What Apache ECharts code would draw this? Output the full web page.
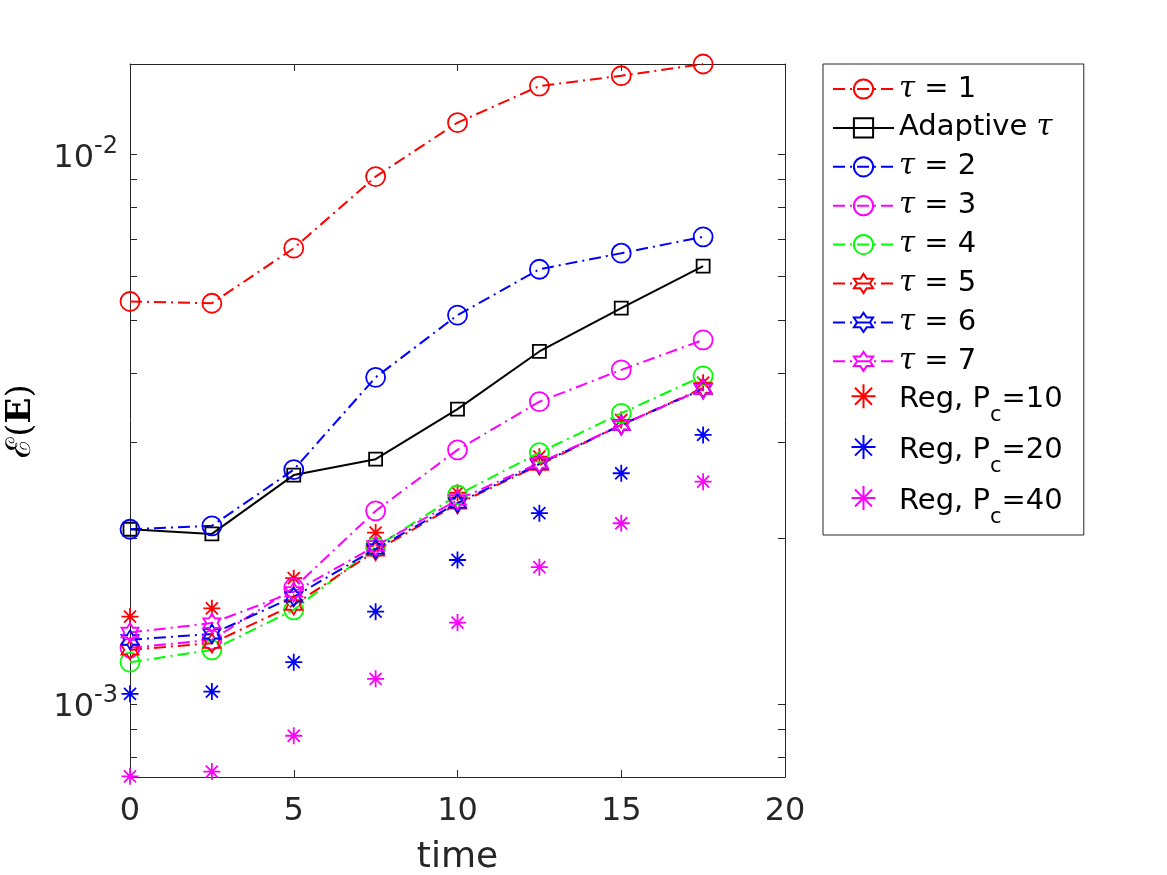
<!DOCTYPE html>
<html>
<head>
<meta charset="utf-8">
<script src="https://cdn.jsdelivr.net/npm/echarts@6/dist/echarts.min.js"></script>
<style>html,body{margin:0;padding:0;background:#fff}#c{width:1167px;height:875px}</style>
</head>
<body>
<div id="c"></div>
<script>
const times = [0, 2.5, 5, 7.5, 10, 12.5, 15, 17.5];
const tau1 = [0.00540, 0.00536, 0.00675, 0.00911, 0.01142, 0.01331, 0.01390, 0.0146];
const adaptive = [0.00208, 0.00204, 0.00261, 0.00279, 0.00344, 0.00438, 0.00525, 0.00626];
const tau2 = [0.00208, 0.00211, 0.00267, 0.00393, 0.00510, 0.00618, 0.00661, 0.00708];
const tau3 = [0.001266, 0.001309, 0.001627, 0.002246, 0.002901, 0.003549, 0.004055, 0.004597];
const tau4 = [0.001192, 0.001255, 0.001484, 0.001930, 0.002401, 0.002868, 0.003381, 0.003954];
const tau5 = [0.001255, 0.001291, 0.001515, 0.001900, 0.002313, 0.002723, 0.003220, 0.003759];
const tau6 = [0.001309, 0.001342, 0.001567, 0.001916, 0.002323, 0.002734, 0.003220, 0.003744];
const tau7 = [0.001350, 0.001404, 0.001600, 0.001940, 0.002352, 0.002746, 0.003220, 0.003744];
const reg10 = [0.001443, 0.001494, 0.001695, 0.002051, 0.002424, 0.002819, 0.003287, 0.003844];
const reg20 = [0.001044, 0.001054, 0.001192, 0.001473, 0.001829, 0.002225, 0.002630, 0.003088];
const reg40 = [0.000739, 0.000754, 0.000876, 0.001112, 0.001407, 0.001775, 0.002133, 0.002539];
const xTicks = [0, 5, 10, 15, 20];
const yLabelValues = [0.001, 0.01];
const yTickValues = [0.0008, 0.0009, 0.001, 0.002, 0.003, 0.004, 0.005, 0.006, 0.007, 0.008, 0.009, 0.01];

const seriesNames = ['τ = 1', 'Adaptive τ', 'τ = 2', 'τ = 3', 'τ = 4', 'τ = 5', 'τ = 6', 'τ = 7',
  'Reg, Pc=10', 'Reg, Pc=20', 'Reg, Pc=40'];
const legendRich = {
  'τ = 1': '{it|τ} = 1', 'Adaptive τ': 'Adaptive {it|τ}', 'τ = 2': '{it|τ} = 2', 'τ = 3': '{it|τ} = 3',
  'τ = 4': '{it|τ} = 4', 'τ = 5': '{it|τ} = 5', 'τ = 6': '{it|τ} = 6', 'τ = 7': '{it|τ} = 7',
  'Reg, Pc=10': '{m|Reg, P}{sub|c}{m|=10}', 'Reg, Pc=20': '{m|Reg, P}{sub|c}{m|=20}', 'Reg, Pc=40': '{m|Reg, P}{sub|c}{m|=40}'
};

const RED = '#FF0000', BLUE = '#0000FF', MAG = '#FF00FF', GREEN = '#00FF00', BLACK = '#000000';
const CIRCLE = 'path://M10,0 A10,10 0 1,1 9.99,0 Z';
const SQUARE = 'path://M0,0 L20,0 L20,20 L0,20 Z';
const HEX = 'path://M8.66,0 L11.547,5 L17.32,5 L14.434,10 L17.32,15 L11.547,15 L8.66,20 L5.773,15 L0,15 L2.886,10 L0,5 L5.773,5 Z';
const AST = 'path://M10,0 L10,20 M0,10 L20,10 M2.93,2.93 L17.07,17.07 M17.07,2.93 L2.93,17.07';
const DASHDOT = [12, 5, 2, 5];

function pairs(vals) { return times.map((t, i) => [t, vals[i]]); }
function lineSeries(name, vals, color, symbol, size, dashed) {
  return {
    name, type: 'line', data: pairs(vals), symbol, symbolSize: size,
    lineStyle: { color, width: 2, type: dashed ? DASHDOT : 'solid' },
    itemStyle: { color: 'rgba(0,0,0,0)', borderColor: color, borderWidth: 1.8 },
    emphasis: { disabled: true }, animation: false
  };
}
function regSeries(name, vals, color) {
  return {
    name, type: 'scatter', data: pairs(vals), symbol: AST, symbolSize: 17, symbolKeepAspect: true,
    itemStyle: { color: 'rgba(0,0,0,0)', borderColor: color, borderWidth: 1.8, opacity: 1 },
    emphasis: { disabled: true }, animation: false
  };
}

const axisColor = '#262626';
const font = 'DejaVu Sans';
const yAxisBase = {
  type: 'log', logBase: 10, min: 0.000737, max: 0.0146,
  axisLine: { show: true, onZero: false, lineStyle: { color: axisColor, width: 1 } },
  axisTick: { show: true, inside: true, length: 7, customValues: yTickValues, lineStyle: { color: axisColor } },
  splitLine: { show: false }, minorTick: { show: false }
};
const xAxisBase = {
  type: 'value', min: 0, max: 20, interval: 5,
  axisLine: { show: true, onZero: false, lineStyle: { color: axisColor, width: 1 } },
  axisTick: { show: true, inside: true, length: 7, lineStyle: { color: axisColor } },
  splitLine: { show: false }
};

const chart = echarts.init(document.getElementById('c'), null, { renderer: 'canvas' });
chart.setOption({
  backgroundColor: '#ffffff',
  animation: false,
  grid: { left: 130, right: 382, top: 64, bottom: 98, containLabel: false, outerBoundsMode: 'none' },
  xAxis: [
    Object.assign({}, xAxisBase, {
      position: 'bottom',
      axisLabel: { show: true, fontFamily: font, fontSize: 32, color: axisColor, margin: 19, customValues: xTicks },
      name: 'time', nameLocation: 'middle', nameGap: 63,
      nameTextStyle: { fontFamily: font, fontSize: 36, color: axisColor }
    }),
    Object.assign({}, xAxisBase, { position: 'top', axisLabel: { show: false } })
  ],
  yAxis: [
    Object.assign({}, yAxisBase, {
      position: 'left',
      axisLabel: {
        show: true, margin: 12, customValues: yLabelValues, color: axisColor,
        formatter: function (v) { return '{b|10}{s|' + Math.round(Math.log10(v)) + '}'; },
        rich: {
          b: { fontFamily: font, fontSize: 32, lineHeight: 40, color: axisColor, verticalAlign: 'bottom' },
          s: { fontFamily: font, fontSize: 24, lineHeight: 10, color: axisColor, verticalAlign: 'top' }
        }
      }
    }),
    Object.assign({}, yAxisBase, { position: 'right', axisLabel: { show: false } })
  ],
  legend: {
    orient: 'vertical', left: 823, top: 64,
    padding: [8, 21, 4, 9],
    borderColor: axisColor, borderWidth: 1, backgroundColor: '#fff',
    itemWidth: 61, itemHeight: 24, itemGap: 4.9,
    selectedMode: false,
    data: seriesNames,
    formatter: function (n) { return legendRich[n] || n; },
    textStyle: {
      fontFamily: font, fontSize: 29, color: '#000', lineHeight: 34,
      rich: {
        it: { fontFamily: 'DejaVu Serif', fontStyle: 'italic', fontSize: 29, lineHeight: 34 },
        m: { fontFamily: font, fontSize: 29, lineHeight: 22, verticalAlign: 'top' },
        sub: { fontFamily: font, fontSize: 21, lineHeight: 20, padding: [20, 0, 3, 0], verticalAlign: 'top' }
      }
    }
  },
  graphic: [{
    type: 'text', x: 21, y: 421, rotation: Math.PI / 2,
    style: {
      text: '{n|ℰ(}{b|E}{n|)}', align: 'center', verticalAlign: 'middle',
      rich: {
        n: { fontFamily: 'DejaVu Serif', fontSize: 34, fill: '#000' },
        b: { fontFamily: 'DejaVu Serif', fontSize: 34, fontWeight: 'bold', fill: '#000' }
      }
    }
  }],
  series: [
    lineSeries('τ = 1', tau1, RED, CIRCLE, 19, true),
    lineSeries('Adaptive τ', adaptive, BLACK, SQUARE, 13, false),
    lineSeries('τ = 2', tau2, BLUE, CIRCLE, 19, true),
    lineSeries('τ = 3', tau3, MAG, CIRCLE, 19, true),
    lineSeries('τ = 4', tau4, GREEN, CIRCLE, 19, true),
    lineSeries('τ = 5', tau5, RED, HEX, [17, 19], true),
    lineSeries('τ = 6', tau6, BLUE, HEX, [17, 19], true),
    lineSeries('τ = 7', tau7, MAG, HEX, [17, 19], true),
    regSeries('Reg, Pc=10', reg10, RED),
    regSeries('Reg, Pc=20', reg20, BLUE),
    regSeries('Reg, Pc=40', reg40, MAG)
  ]
});
</script>
</body>
</html>
